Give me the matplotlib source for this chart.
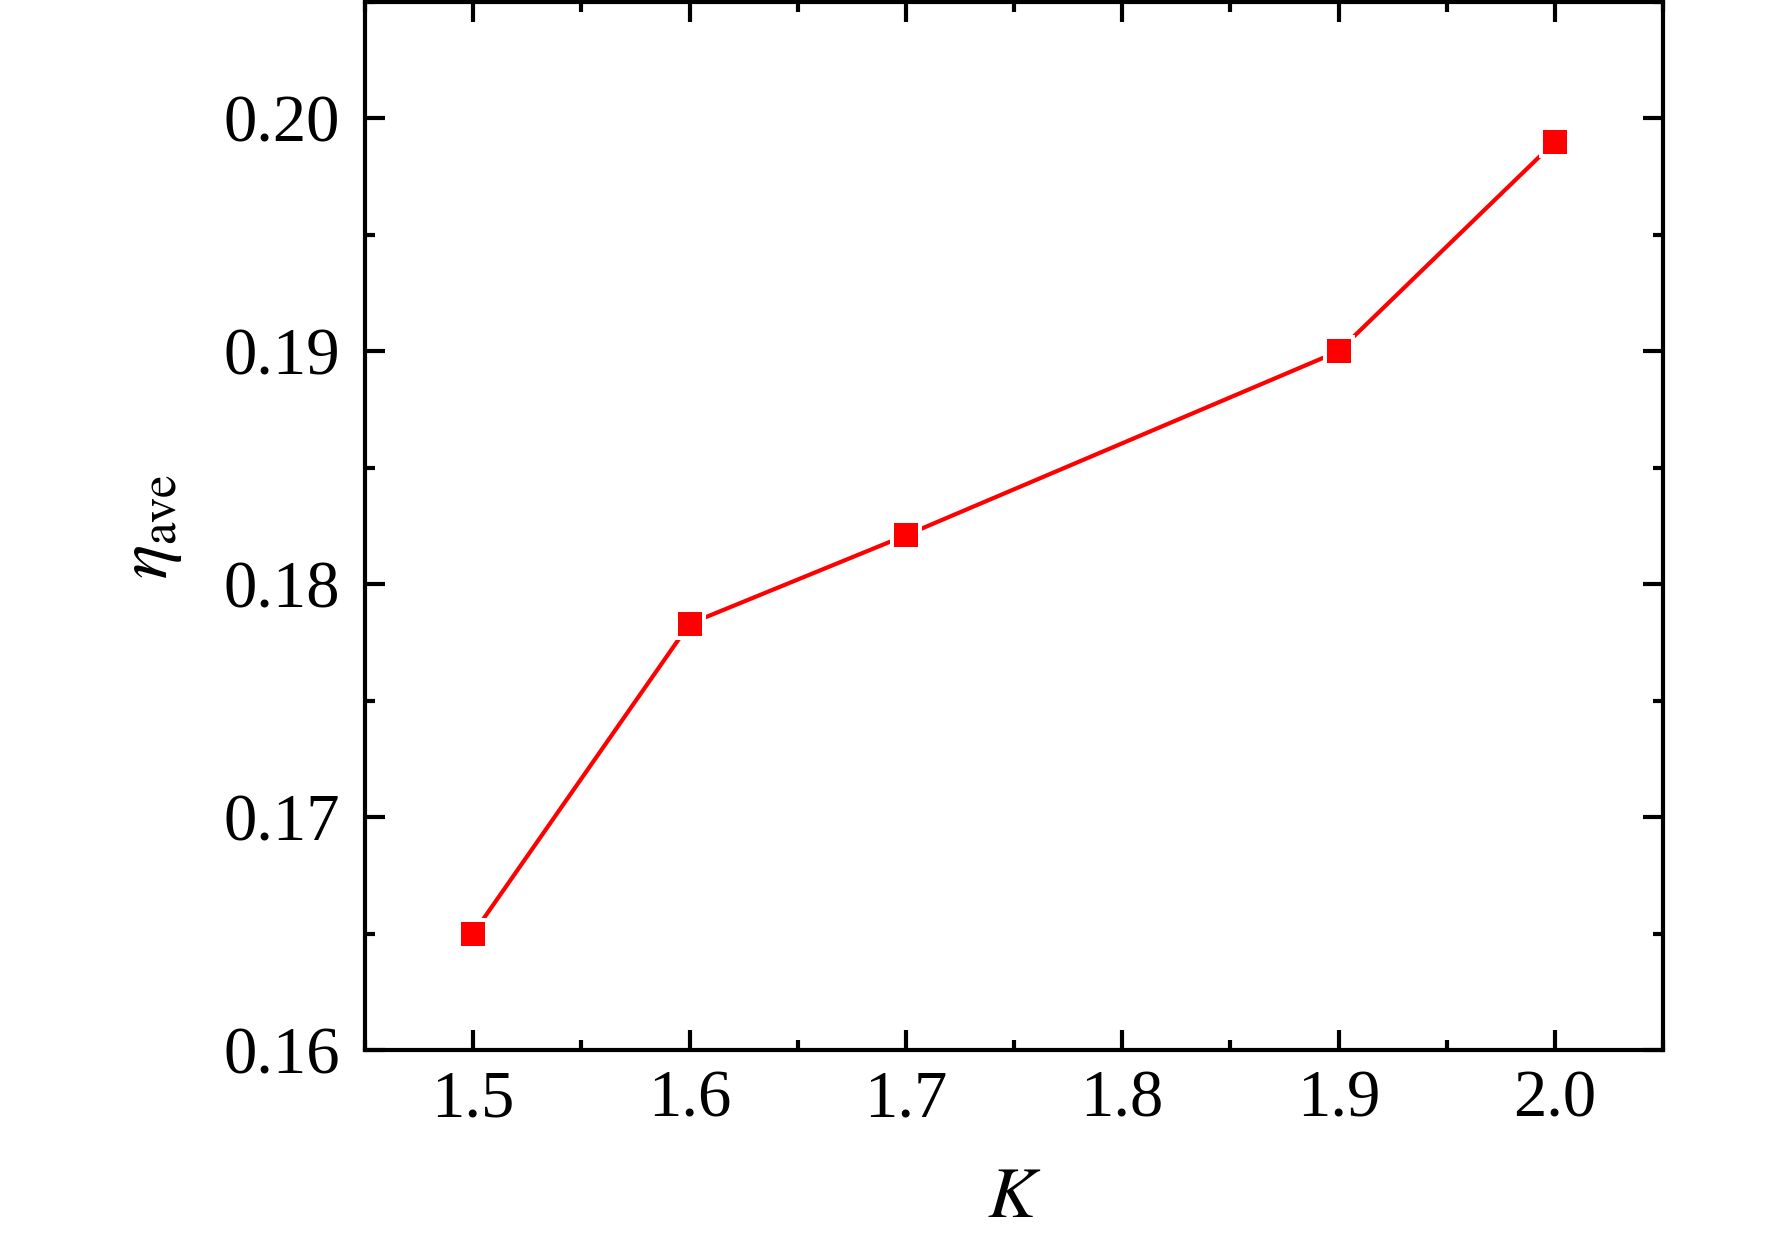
import matplotlib
matplotlib.use("Agg")
import matplotlib.pyplot as plt
from matplotlib.ticker import MultipleLocator

K = [1.5, 1.6, 1.7, 1.9, 2.0]
eta_ave = [0.1650, 0.1783, 0.1821, 0.1900, 0.1990]
x_ticks = [1.5, 1.6, 1.7, 1.8, 1.9, 2.0]
y_ticks = [0.16, 0.17, 0.18, 0.19, 0.20]

plt.rcParams['font.family'] = 'Liberation Serif'
plt.rcParams['mathtext.fontset'] = 'stix'

dpi = 200
fig = plt.figure(figsize=(1772 / dpi, 1240 / dpi), dpi=dpi)
ax = fig.add_axes([365 / 1772, 1 - 1050 / 1240, (1663 - 365) / 1772, (1050 - 2) / 1240])

ax.plot(K, eta_ave, color='#ff0000', linewidth=1.5, marker='s', markersize=10.4,
        markerfacecolor='#ff0000', markeredgecolor='white', markeredgewidth=1.44)

ax.set_xlim(1.45, 2.05)
ax.set_ylim(0.16, 0.205)
ax.set_xticks(x_ticks)
ax.set_yticks(y_ticks)
ax.set_xticklabels([f"{v:.1f}" for v in x_ticks], family='Liberation Serif')
ax.set_yticklabels([f"{v:.2f}" for v in y_ticks], family='Liberation Serif')
ax.xaxis.set_minor_locator(MultipleLocator(0.05))
ax.yaxis.set_minor_locator(MultipleLocator(0.005))

for s in ax.spines.values():
    s.set_linewidth(1.5)

ax.tick_params(which='both', direction='in', top=True, right=True, width=1.5, labelsize=24)
ax.tick_params(which='major', length=7.2)
ax.tick_params(which='minor', length=3.6)
ax.tick_params(axis='x', pad=7)
ax.tick_params(axis='y', pad=9)

ax.set_xlabel(r'$K$', fontsize=26, labelpad=13)
ax.set_ylabel(r'$\eta_{\rm ave}$', fontsize=26, labelpad=14)

fig.savefig('out.png', dpi=dpi, facecolor='white')
